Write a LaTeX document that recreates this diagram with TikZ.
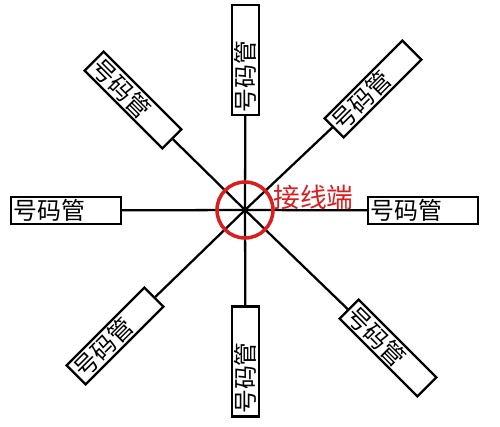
\documentclass[tikz,border=0pt]{standalone}
\usepackage{fontspec}
\usepackage{xcolor}
\newfontfamily\cjk{Noto Sans CJK SC}
\definecolor{termred}{RGB}{218, 30, 30}
\tikzset{
  tube/.style={draw, line width=1.3pt, fill=white, minimum height=0.54cm,
    inner xsep=1.5pt, inner ysep=0pt, text width=2.2cm-3pt, align=left,
    font=\cjk\fontsize{13.6pt}{14pt}\selectfont},
  wire/.style={line width=1.3pt}
}

\begin{document}
\begin{tikzpicture}[x=0.02cm, y=-0.02cm]
            \useasboundingbox (0,0) rectangle (500,426);
            \coordinate (c) at (245,210);
            
            % number tubes
            \node[tube, rotate=90] (top) at (245.5,60) {号码管};
            \node[tube, rotate=90] (bot) at (245.5,361.5) {号码管};
            \node[tube] (lft) at (66,210.5) {号码管};
            \node[tube] (rgt) at (423,210.5) {号码管};
            \node[tube, rotate=-45] (ul) at (133,100) {号码管};
            \node[tube, rotate=45] (ur) at (373,89) {号码管};
            \node[tube, rotate=45] (ll) at (115,336) {号码管};
            \node[tube, rotate=-45] (lr) at (388,348) {号码管};
            
            % wires
            \foreach \t in {top,bot,lft,rgt,ul,ur,ll,lr}
                \draw[wire] (c) -- (\t);
            
            % terminal
            \draw[termred, line width=2pt] (c) circle[radius=28];
            \node[termred, font=\cjk\fontsize{15.2pt}{16pt}\selectfont, anchor=west, inner sep=0pt] (lbl) at (273,197) {接线端};
        \end{tikzpicture}
\end{document}
